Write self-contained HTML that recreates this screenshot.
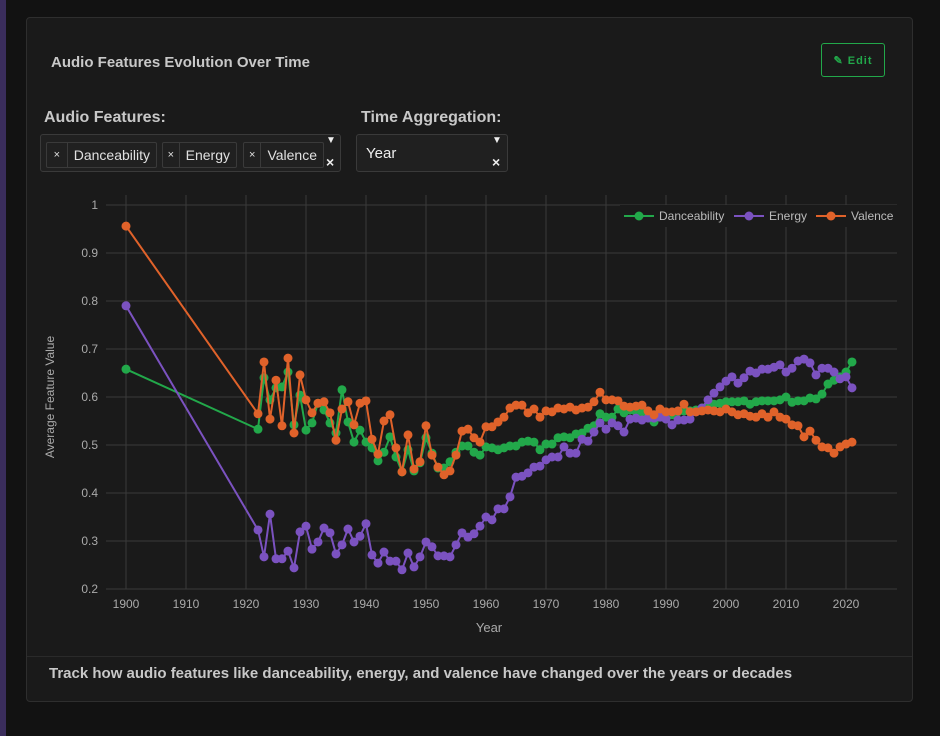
<!DOCTYPE html>
<html><head><meta charset="utf-8"><style>
body{margin:0;width:940px;height:736px;background:#121212;font-family:"Liberation Sans",sans-serif;overflow:hidden;position:relative}
.strip{position:absolute;left:0;top:0;width:6px;height:736px;background:#3a2d5c}
.card{position:absolute;left:26px;top:17px;width:885px;height:683px;background:#1a1a1a;border:1px solid #2e2e2e;border-radius:4px}
.abs{position:absolute}
.title{left:24px;top:36px;font-size:15px;font-weight:bold;color:#c8c8c8}
.edit{left:794px;top:25px;width:64px;height:34px;border:1px solid #22a84a;border-radius:3px;color:#22a84a;font-size:11px;font-weight:bold;letter-spacing:1px;display:flex;align-items:center;justify-content:center;box-sizing:border-box}
.lbl{font-size:16px;font-weight:bold;color:#c8c8c8}
.sel{background:#202020;border:1px solid #3a3a3a;border-radius:3px;box-sizing:border-box}
.tag{position:absolute;top:7px;height:26px;border:1px solid #3a3a3a;border-radius:2px;display:flex;align-items:center;color:#e0e0e0;font-size:14px;box-sizing:border-box}
.tag .x{width:21px;text-align:center;border-right:1px solid #3a3a3a;height:100%;line-height:24px;font-size:11px}
.tag .t{padding:0 6px}
.foot{left:22px;top:647px;font-size:15px;font-weight:bold;color:#c8c8c8}
</style></head><body>
<div class="strip"></div>
<div class="card">
<div class="abs title">Audio Features Evolution Over Time</div>
<div class="abs edit">✎&nbsp;Edit</div>
<div class="abs lbl" style="left:17px;top:91px">Audio Features:</div>
<div class="abs sel" style="left:13px;top:116px;width:301px;height:38px">
<div class="tag" style="left:5px;width:111px"><span class="x">×</span><span class="t">Danceability</span></div>
<div class="tag" style="left:121px;width:75px"><span class="x">×</span><span class="t">Energy</span></div>
<div class="tag" style="left:202px;width:81px"><span class="x">×</span><span class="t">Valence</span></div>
<span class="abs" style="left:285px;top:0;color:#eee;font-size:10px">▼</span>
<span class="abs" style="left:285px;top:19px;color:#eee;font-size:14px;font-weight:bold">×</span>
</div>
<div class="abs lbl" style="left:334px;top:91px">Time Aggregation:</div>
<div class="abs sel" style="left:329px;top:116px;width:152px;height:38px">
<span class="abs" style="left:9px;top:10px;color:#eee;font-size:15px">Year</span>
<span class="abs" style="left:135px;top:0;color:#eee;font-size:10px">▼</span>
<span class="abs" style="left:135px;top:19px;color:#eee;font-size:14px;font-weight:bold">×</span>
</div>
<div class="abs" style="left:0;top:638px;width:885px;border-top:1px solid #2a2a2a"></div>
<div class="abs foot">Track how audio features like danceability, energy, and valence have changed over the years or decades</div>
</div>
<svg id="chart" class="abs" style="left:0;top:0" width="940" height="736"></svg>
<script>
const years=[1900];for(let y=1922;y<=2021;y++)years.push(y);
const danceability=[0.658,0.533,0.64,0.594,0.619,0.621,0.652,0.542,0.604,0.531,0.546,0.587,0.573,0.546,0.525,0.615,0.548,0.506,0.531,0.506,0.494,0.467,0.485,0.517,0.475,0.444,0.49,0.446,0.463,0.515,0.483,0.452,0.452,0.465,0.485,0.498,0.498,0.485,0.479,0.496,0.494,0.49,0.494,0.498,0.498,0.506,0.508,0.506,0.49,0.502,0.502,0.515,0.517,0.515,0.523,0.525,0.535,0.54,0.565,0.558,0.558,0.575,0.567,0.573,0.569,0.567,0.563,0.548,0.573,0.567,0.563,0.569,0.571,0.571,0.573,0.577,0.583,0.585,0.587,0.59,0.59,0.59,0.592,0.585,0.59,0.592,0.592,0.592,0.594,0.6,0.589,0.592,0.592,0.598,0.596,0.606,0.627,0.635,0.642,0.652,0.673];
const energy=[0.79,0.323,0.267,0.356,0.263,0.263,0.279,0.244,0.319,0.331,0.283,0.298,0.327,0.317,0.273,0.292,0.325,0.298,0.31,0.336,0.271,0.254,0.277,0.258,0.258,0.24,0.275,0.246,0.267,0.298,0.288,0.269,0.269,0.267,0.292,0.317,0.308,0.315,0.331,0.35,0.344,0.367,0.367,0.392,0.433,0.435,0.442,0.454,0.456,0.469,0.475,0.475,0.496,0.483,0.483,0.512,0.508,0.527,0.546,0.533,0.546,0.54,0.527,0.554,0.556,0.552,0.556,0.556,0.558,0.554,0.542,0.552,0.552,0.554,0.569,0.577,0.594,0.608,0.621,0.633,0.642,0.629,0.64,0.654,0.65,0.658,0.658,0.662,0.667,0.652,0.66,0.675,0.679,0.671,0.646,0.66,0.66,0.652,0.638,0.642,0.619];
const valence=[0.956,0.565,0.673,0.554,0.635,0.54,0.681,0.525,0.646,0.594,0.567,0.587,0.59,0.567,0.51,0.575,0.59,0.542,0.587,0.592,0.512,0.481,0.55,0.563,0.494,0.444,0.521,0.45,0.465,0.54,0.479,0.454,0.438,0.446,0.479,0.529,0.533,0.515,0.506,0.538,0.538,0.548,0.558,0.577,0.583,0.583,0.567,0.575,0.558,0.571,0.569,0.577,0.575,0.579,0.573,0.577,0.579,0.59,0.61,0.594,0.594,0.592,0.581,0.579,0.581,0.583,0.571,0.563,0.575,0.569,0.569,0.571,0.585,0.569,0.569,0.571,0.573,0.571,0.569,0.575,0.569,0.563,0.565,0.56,0.558,0.565,0.558,0.569,0.558,0.554,0.542,0.54,0.517,0.529,0.51,0.496,0.494,0.483,0.496,0.502,0.506];
const xTicks=[1900,1910,1920,1930,1940,1950,1960,1970,1980,1990,2000,2010,2020];
const yTicks=[0.2,0.3,0.4,0.5,0.6,0.7,0.8,0.9,1];
const seriesNames=["Danceability","Energy","Valence"];
const seriesColors=["#22a84a","#7b52c0","#e0622a"];
const x=v=>126+(v-1900)*6;
const y=v=>205+(1-v)*480;
const NS="http://www.w3.org/2000/svg";
const svg=document.getElementById('chart');
function mk(t,a){const e=document.createElementNS(NS,t);for(const k in a)e.setAttribute(k,a[k]);svg.appendChild(e);return e;}
xTicks.forEach(t=>{
 const l=mk('line',{x1:x(t),x2:x(t),y1:195,y2:589,stroke:'#3a3a3a'});
 
 
 const tx=mk('text',{x:x(t),y:608,fill:'#aaa','font-size':12,'text-anchor':'middle'});tx.textContent=t;
 
 
});
yTicks.forEach(t=>{
 const l=mk('line',{x1:106,x2:897,y1:y(t),y2:y(t),stroke:'#3a3a3a'});
 
 
 const tx=mk('text',{x:98,y:y(t)+4,fill:'#aaa','font-size':12,'text-anchor':'end'});tx.textContent=t;
 
 
});
const xt=mk('text',{x:489,y:632,fill:'#aaa','font-size':13,'text-anchor':'middle'});xt.textContent='Year';


const yt=mk('text',{x:54,y:397,fill:'#aaa','font-size':12,'text-anchor':'middle',transform:'rotate(-90 54 397)'});yt.textContent='Average Feature Value';


[danceability,energy,valence].forEach((d,i)=>{
 const p=mk('polyline',{points:d.map((v,j)=>x(years[j])+','+y(v)).join(' '),fill:'none',stroke:seriesColors[i],'stroke-width':2});
 
 
 d.forEach((v,j)=>{const c=mk('circle',{cx:x(years[j]),cy:y(v),r:4.5,fill:seriesColors[i]});
 
 });
});
mk('rect',{x:620,y:205,width:277,height:22,fill:'#1a1a1a'});
const lx=[624,734,816];
seriesNames.forEach((n,i)=>{
 const g=mk('line',{x1:lx[i],x2:lx[i]+30,y1:216,y2:216,stroke:seriesColors[i],'stroke-width':2});
 
 
 const c=mk('circle',{cx:lx[i]+15,cy:216,r:4.5,fill:seriesColors[i]});
 
 
 const t=mk('text',{x:lx[i]+35,y:220,fill:'#bbb','font-size':12});t.textContent=n;
 
 
});
</script>
</body></html>
